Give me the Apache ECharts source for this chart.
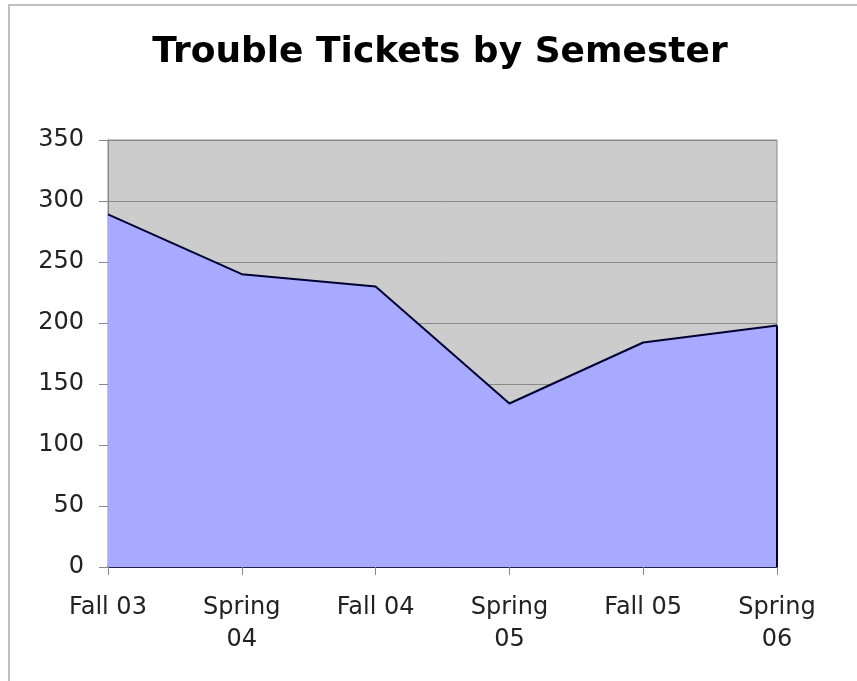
<!DOCTYPE html>
<html>
<head>
<meta charset="utf-8">
<title>Trouble Tickets by Semester</title>
<script src="https://cdn.jsdelivr.net/npm/echarts@6/dist/echarts.min.js"></script>
<style>
  html, body { margin: 0; padding: 0; background: #ffffff; }
  #chart { width: 857px; height: 681px; }
</style>
</head>
<body>
<div id="chart"></div>
<script>
// Semesters along the x axis
const semesters = ['Fall 03', 'Spring\n04', 'Fall 04', 'Spring\n05', 'Fall 05', 'Spring\n06'];
// Trouble tickets logged in each semester
const tickets = [289, 240, 230, 134, 184, 198];
// Value axis range
const yMin = 0;
const yMax = 350;
const yStep = 50;

const FONT = '"DejaVu Sans", Verdana, sans-serif';

const chart = echarts.init(document.getElementById('chart'), null, { renderer: 'canvas' });

const lastIdx = semesters.length - 1;

chart.setOption({
  backgroundColor: '#ffffff',
  animation: false,
  graphic: [
    // outer chart frame (top and left edges)
    { type: 'line', shape: { x1: 8, y1: 5, x2: 857, y2: 5 }, style: { stroke: '#c0c0c0', lineWidth: 2 } },
    { type: 'line', shape: { x1: 9, y1: 4, x2: 9, y2: 681 }, style: { stroke: '#c0c0c0', lineWidth: 2 } },
    {
      type: 'text',
      x: 440, y: 53,
      style: {
        text: 'Trouble Tickets by Semester',
        font: 'bold 36px ' + FONT,
        fill: '#000000',
        textAlign: 'center',
        textVerticalAlign: 'middle'
      }
    }
  ],
  grid: {
    left: 108, right: 80, top: 140, bottom: 114,
    show: true,
    backgroundColor: '#cccccc',
    borderColor: '#888888',
    borderWidth: 1
  },
  xAxis: {
    type: 'category',
    data: semesters,
    boundaryGap: false,
    axisLine: { show: true, lineStyle: { color: '#000033', width: 1.5 } },
    axisTick: { show: true, alignWithLabel: true, length: 8, lineStyle: { color: '#888888' } },
    axisLabel: {
      color: '#222222', fontFamily: FONT, fontSize: 24, lineHeight: 32,
      margin: 25, interval: 0
    },
    splitLine: { show: false }
  },
  yAxis: {
    type: 'value',
    min: yMin, max: yMax, interval: yStep,
    axisLine: { show: true, lineStyle: { color: '#888888', width: 1 } },
    axisTick: { show: true, length: 9, lineStyle: { color: '#888888' } },
    axisLabel: { color: '#222222', fontFamily: FONT, fontSize: 24, margin: 24 },
    splitLine: { show: true, lineStyle: { color: '#888888', width: 1 } }
  },
  series: [{
    type: 'line',
    data: tickets,
    symbol: 'none',
    lineStyle: { color: '#000033', width: 2 },
    areaStyle: { color: '#a8aaff', opacity: 1 },
    markLine: {
      silent: true,
      symbol: 'none',
      label: { show: false },
      lineStyle: { color: '#000033', width: 2, type: 'solid' },
      data: [[
        { coord: [lastIdx, yMin] },
        { coord: [lastIdx, tickets[lastIdx]] }
      ]]
    }
  }]
});
</script>
</body>
</html>
